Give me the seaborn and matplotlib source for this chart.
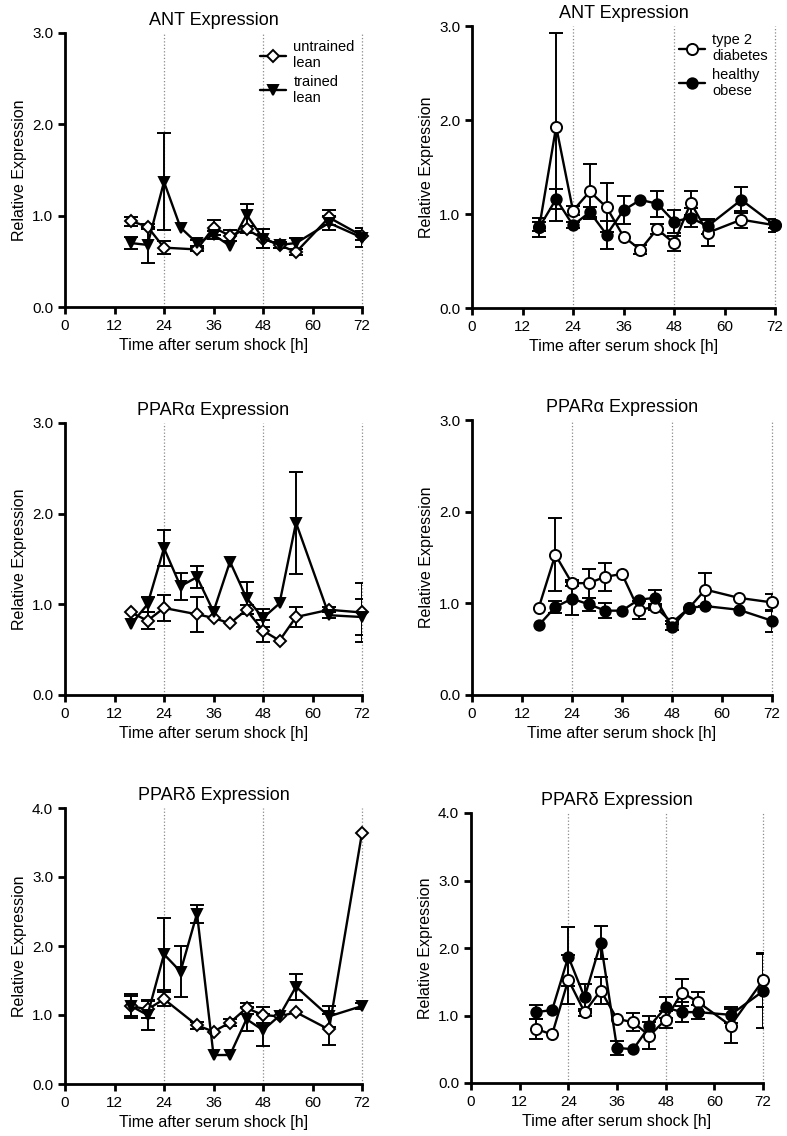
import numpy as np
import pandas as pd
import seaborn as sns
import matplotlib.pyplot as plt

# time points (h after serum shock)
t_all = [16, 20, 24, 28, 32, 36, 40, 44, 48, 52, 56, 64, 72]
t_untr = [16, 20, 24, 32, 36, 40, 44, 48, 52, 56, 64, 72]

# ANT
ant_untr = [0.94, 0.88, 0.65, 0.63, 0.87, 0.78, 0.85, 0.75, 0.68, 0.60, 0.98, 0.78]
ant_untr_err = [0.05, 0.03, 0.07, 0.02, 0.08, 0.06, 0.04, 0.10, 0.03, 0.03, 0.08, 0.05]
ant_tr = [0.70, 0.68, 1.37, 0.87, 0.70, 0.79, 0.67, 1.01, 0.75, 0.68, 0.70, 0.92, 0.76]
ant_tr_err = [0.07, 0.20, 0.53, 0, 0.03, 0.04, 0, 0.12, 0.10, 0.03, 0.06, 0.08, 0.10]
ant_t2d = [0.865, 1.93, 1.035, 1.24, 1.07, 0.76, 0.62, 0.84, 0.69, 1.12, 0.80, 0.94, 0.88]
ant_t2d_err = [0.05, 1.0, 0.05, 0.29, 0.26, 0, 0.05, 0.05, 0.08, 0.13, 0.14, 0.09, 0.03]
ant_ob = [0.86, 1.16, 0.88, 1.02, 0.78, 1.04, 1.15, 1.11, 0.92, 0.96, 0.87, 1.15, 0.88]
ant_ob_err = [0.10, 0.11, 0.03, 0.05, 0.15, 0.15, 0, 0.14, 0.12, 0.10, 0.08, 0.14, 0.07]

# PPAR alpha
pa_untr = [0.91, 0.82, 0.96, 0.89, 0.85, 0.79, 0.94, 0.71, 0.60, 0.86, 0.94, 0.91]
pa_untr_err = [0, 0.09, 0.14, 0.19, 0, 0, 0.05, 0.12, 0, 0.11, 0.03, 0.33]
pa_tr = [0.78, 1.00, 1.62, 1.20, 1.30, 0.92, 1.47, 1.07, 0.85, 1.01, 1.90, 0.88, 0.86]
pa_tr_err = [0, 0.08, 0.20, 0.15, 0.12, 0, 0, 0.18, 0.10, 0, 0.56, 0.03, 0.20]
pa_t2d = [0.95, 1.53, 1.22, 1.22, 1.29, 1.32, 0.93, 0.96, 0.79, 0.945, 1.15, 1.06, 1.01]
pa_t2d_err = [0, 0.40, 0.03, 0.16, 0.15, 0, 0.10, 0.03, 0.02, 0, 0.18, 0, 0.09]
pa_ob = [0.76, 0.96, 1.05, 0.99, 0.92, 0.92, 1.04, 1.06, 0.74, 0.95, 0.97, 0.93, 0.81]
pa_ob_err = [0, 0.07, 0.18, 0.07, 0.08, 0, 0, 0.09, 0.03, 0, 0, 0, 0.12]

# PPAR delta
pd_untr = [1.13, 1.08, 1.23, 0.85, 0.76, 0.89, 1.10, 1.00, 0.98, 1.04, 0.79, 3.64]
pd_untr_err = [0.15, 0.12, 0.10, 0.05, 0, 0.05, 0.08, 0.12, 0, 0, 0.22, 0]
pd_tr = [1.13, 1.00, 1.88, 1.63, 2.47, 0.42, 0.42, 0.94, 0.78, 0.99, 1.41, 0.98, 1.13]
pd_tr_err = [0.18, 0.22, 0.52, 0.37, 0.13, 0, 0, 0.17, 0.23, 0, 0.19, 0.15, 0.05]
pd_t2d = [0.80, 0.72, 1.53, 1.05, 1.37, 0.95, 0.90, 0.70, 0.94, 1.34, 1.20, 0.85, 1.52]
pd_t2d_err = [0.15, 0, 0.36, 0.05, 0.20, 0, 0.13, 0.20, 0.12, 0.20, 0.15, 0.25, 0.40]
pd_ob = [1.05, 1.08, 1.87, 1.27, 2.08, 0.52, 0.50, 0.84, 1.12, 1.05, 1.05, 1.01, 1.36]
pd_ob_err = [0.10, 0, 0.44, 0.20, 0.25, 0.10, 0, 0.15, 0.15, 0.15, 0.10, 0.12, 0.55]

UNTR, TR, T2D, OB = 'untrained\nlean', 'trained\nlean', 'type 2\ndiabetes', 'healthy\nobese'

sns.set_theme(style='ticks')
plt.rcParams['font.family'] = ['Liberation Sans', 'DejaVu Sans']
plt.rcParams['text.color'] = 'black'
plt.rcParams['axes.labelcolor'] = 'black'

W, H = 787, 1136
fig = plt.figure(figsize=(W / 100, H / 100), dpi=100)


def rect(x0, y0, x1, y1):
    return [x0 / W, 1 - y1 / H, (x1 - x0) / W, (y1 - y0) / H]


styles = {
    UNTR: dict(marker='D', mfc='white', ms=6.5),
    TR: dict(marker='v', mfc='black', ms=7.5),
    T2D: dict(marker='o', mfc='white', ms=8),
    OB: dict(marker='o', mfc='black', ms=7.5),
}


def panel(box, title, series, ymax, legend=False):
    ax = fig.add_axes(rect(*box))
    for v in (24, 48, 72):
        ax.axvline(v, color='#8a8a8a', ls=':', lw=0.9, zorder=1, clip_on=False)
    for name, x, y, e in series:
        st = styles[name]
        x = np.array(x); y = np.array(y); e = np.array(e)
        m = e > 0
        ax.errorbar(x[m], y[m], yerr=e[m], fmt='none', ecolor='black',
                    elinewidth=1.4, capsize=5, capthick=1.4, zorder=2)
        df = pd.DataFrame({'t': x, 'v': y})
        sns.lineplot(data=df, x='t', y='v', ax=ax, color='black', lw=1.7,
                     marker=st['marker'], markersize=st['ms'],
                     markerfacecolor=st['mfc'], markeredgecolor='black',
                     markeredgewidth=1.4, label=name, clip_on=False, zorder=3)
    ax.set_xlim(0, 72)
    ax.set_ylim(0, ymax)
    ax.set_xticks(range(0, 73, 12))
    ax.set_yticks(np.arange(0, ymax + 0.1, 1.0))
    ax.yaxis.set_major_formatter('{x:.1f}')
    for s in ('top', 'right'):
        ax.spines[s].set_visible(False)
    for s in ('left', 'bottom'):
        ax.spines[s].set_linewidth(2)
        ax.spines[s].set_color('black')
    ax.tick_params(direction='out', length=5, width=2, labelsize=11, colors='black')
    ax.set_xlabel('Time after serum shock [h]', fontsize=11.5)
    ax.set_ylabel('Relative Expression', fontsize=11.5)
    ax.set_title(title, fontsize=13, pad=6)
    if legend:
        ax.legend(loc='upper right', frameon=False, fontsize=10.5, handlelength=1.8,
                  handletextpad=0.5, labelspacing=0.3, borderaxespad=0.1)
    else:
        ax.get_legend().remove()
    return ax


panel((65, 33, 362, 307), 'ANT Expression',
      [(UNTR, t_untr, ant_untr, ant_untr_err), (TR, t_all, ant_tr, ant_tr_err)], 3, legend=True)
panel((472, 26, 775, 308), 'ANT Expression',
      [(T2D, t_all, ant_t2d, ant_t2d_err), (OB, t_all, ant_ob, ant_ob_err)], 3, legend=True)
panel((65, 423, 362, 695), 'PPAR\u03b1 Expression',
      [(UNTR, t_untr, pa_untr, pa_untr_err), (TR, t_all, pa_tr, pa_tr_err)], 3)
panel((472, 420, 772, 695), 'PPAR\u03b1 Expression',
      [(T2D, t_all, pa_t2d, pa_t2d_err), (OB, t_all, pa_ob, pa_ob_err)], 3)
panel((65, 808, 362, 1084), 'PPAR\u03b4 Expression',
      [(UNTR, t_untr, pd_untr, pd_untr_err), (TR, t_all, pd_tr, pd_tr_err)], 4)
panel((471, 813, 763, 1083), 'PPAR\u03b4 Expression',
      [(T2D, t_all, pd_t2d, pd_t2d_err), (OB, t_all, pd_ob, pd_ob_err)], 4)

fig.savefig('out.png', dpi=100)
